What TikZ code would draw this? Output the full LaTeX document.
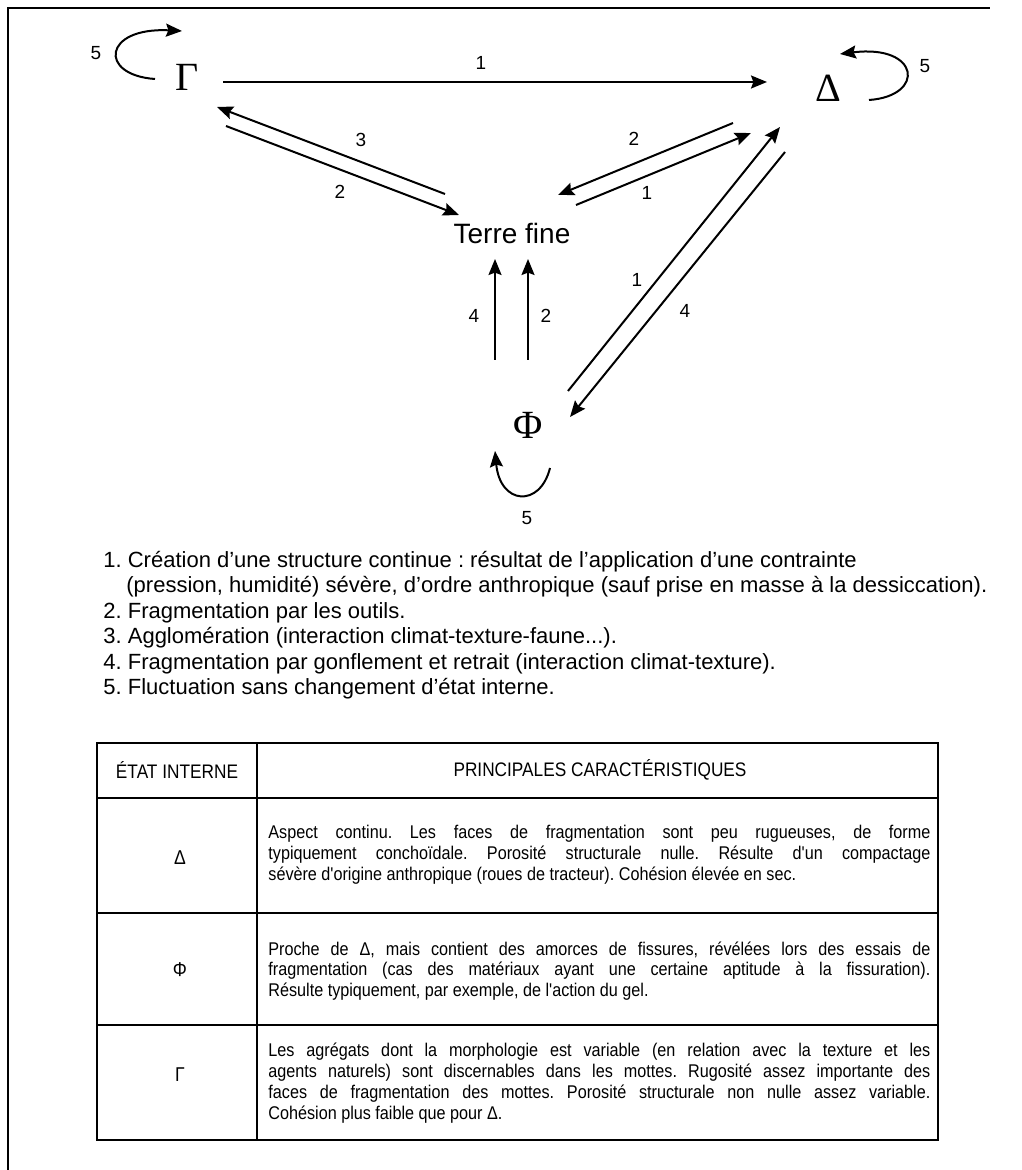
\documentclass[tikz,border=0pt]{standalone}
\usepackage{fontspec}
\setmainfont{Liberation Sans}
\newfontfamily\grfont{Liberation Serif}
\newfontfamily\tabfont[FakeStretch=0.88]{Liberation Sans}
\usetikzlibrary{arrows.meta}
\newcommand{\jline}[1]{\makebox[331pt][s]{#1}}
\frenchspacing
\tikzset{
    %Define standard arrow tip
    >={Stealth[length=8pt,width=6.5pt,inset=1.2pt]},
    %Define style for the states
    etat/.style={
           font=\grfont\fontsize{20}{24}\selectfont,
           inner sep=1pt,
           },
    terre/.style={
           font=\fontsize{14}{16}\selectfont,
           inner sep=1pt,
           },
    lbl/.style={
           font=\fontsize{9.5}{10}\selectfont,
           inner sep=0pt,
           },
    % Define arrow style
    pil/.style={
           ->,
           line width=1pt,},
    boucle/.style={
           ->,
           line width=1pt,},
    %Define style for the legend and the table
    legende/.style={
           font=\fontsize{11}{12}\selectfont,
           anchor=base west,
           inner sep=0pt,
           },
    cell/.style={
           font=\tabfont\fontsize{9.2}{10.4}\selectfont,
           anchor=west,
           align=left,
           inner sep=0pt,
           },
    head/.style={
           font=\tabfont\fontsize{9.8}{11}\selectfont,
           inner sep=0pt,
           },
    sym/.style={
           font=\tabfont\fontsize{10}{11}\selectfont,
           inner sep=0pt,
           }
}
\begin{document}
\begin{tikzpicture}[x=0.5pt,y=-0.5pt]
\useasboundingbox (0,0) rectangle (1021,1170);
% frame
\draw[line width=0.6pt] (8,1170) -- (8,8) -- (990,8);

% states
\node[etat](G) at (187,77) {Γ};
\node[etat](D) at (828,88) {Δ};
\node[terre](T) at (512,233) {Terre fine};
\node[etat](F) at (528,425) {Φ};

% arrow ends
\coordinate (gd1) at (223,82);   \coordinate (gd2) at (767,82);
\coordinate (tg1) at (445,194);  \coordinate (tg2) at (217,107);
\coordinate (gt1) at (226,126);  \coordinate (gt2) at (459,215);
\coordinate (dt1) at (733,123);  \coordinate (dt2) at (558,195);
\coordinate (td1) at (576,205);  \coordinate (td2) at (751,133);
\coordinate (fd1) at (568,391);  \coordinate (fd2) at (780,127);
\coordinate (df1) at (785,152);  \coordinate (df2) at (570,417);
\coordinate (ft1) at (495,360);  \coordinate (ft2) at (495,259);
\coordinate (fu1) at (528,360);  \coordinate (fu2) at (528,259);
\coordinate (gl1) at (155,79);   \coordinate (gl2) at (182,31);
\coordinate (dl1) at (869,100);  \coordinate (dl2) at (840,54);
\coordinate (fl1) at (550,468);  \coordinate (fl2) at (495,451);

\draw[pil] (gd1) -- (gd2);
\draw[pil] (tg1) -- (tg2);
\draw[pil] (gt1) -- (gt2);
\draw[pil] (dt1) -- (dt2);
\draw[pil] (td1) -- (td2);
\draw[pil] (fd1) -- (fd2);
\draw[pil] (df1) -- (df2);
\draw[pil] (ft1) -- (ft2);
\draw[pil] (fu1) -- (fu2);
\draw[boucle] (gl1) .. controls (98,75) and (103,27) .. (gl2);
\draw[boucle] (dl1) .. controls (926,96) and (920,44) .. (dl2);
\draw[boucle] (fl1) .. controls (540,508) and (500,505) .. (fl2);

% labels
\node[lbl](n1) at (481,63) {1};
\node[lbl](n2) at (96,53) {5};
\node[lbl](n3) at (925,66) {5};
\node[lbl](n4) at (361,140) {3};
\node[lbl](n5) at (340,192) {2};
\node[lbl](n6) at (634,139) {2};
\node[lbl](n7) at (647,193) {1};
\node[lbl](n8) at (637,280) {1};
\node[lbl](n9) at (685,311) {4};
\node[lbl](n10) at (474,316) {4};
\node[lbl](n11) at (546,316) {2};
\node[lbl](n12) at (527,518) {5};

% legend
\node[legende](l1) at (103,567) {1. Création d'une structure continue : résultat de l'application d'une contrainte};
\node[legende](l2) at (103,592) {\hspace*{11.5pt}(pression, humidité) sévère, d'ordre anthropique (sauf prise en masse à la dessiccation).};
\node[legende](l3) at (103,618) {2. Fragmentation par les outils.};
\node[legende](l4) at (103,643) {3. Agglomération (interaction climat-texture-faune...).};
\node[legende](l5) at (103,669) {4. Fragmentation par gonflement et retrait (interaction climat-texture).};
\node[legende](l6) at (103,694) {5. Fluctuation sans changement d'état interne.};

% table
\draw[line width=0.7pt] (97,743) rectangle (938,1140);
\draw[line width=0.7pt] (257,743) -- (257,1140);
\foreach \y in {798,913,1025}
    \draw[line width=0.7pt] (97,\y) -- (938,\y);
\node[head](h1) at (177,770) {ÉTAT INTERNE};
\node[head](h2) at (600,770) {PRINCIPALES CARACTÉRISTIQUES};
\node[sym](s1) at (180,858) {Δ};
\node[sym](s2) at (180,970) {Φ};
\node[sym](s3) at (180,1075) {Γ};
\node[cell](c1) at (268,855) {\jline{Aspect continu. Les faces de fragmentation sont peu rugueuses, de forme}\\
\jline{typiquement conchoïdale. Porosité structurale nulle. Résulte d'un compactage}\\
sévère d'origine anthropique (roues de tracteur). Cohésion élevée en sec.};
\node[cell](c2) at (268,971) {\jline{Proche de Δ, mais contient des amorces de fissures, révélées lors des essais de}\\
\jline{fragmentation (cas des matériaux ayant une certaine aptitude à la fissuration).}\\
Résulte typiquement, par exemple, de l'action du gel.};
\node[cell](c3) at (268,1083) {\jline{Les agrégats dont la morphologie est variable (en relation avec la texture et les}\\
\jline{agents naturels) sont discernables dans les mottes. Rugosité assez importante des}\\
\jline{faces de fragmentation des mottes. Porosité structurale non nulle assez variable.}\\
Cohésion plus faible que pour Δ.};
\end{tikzpicture}
\end{document}
